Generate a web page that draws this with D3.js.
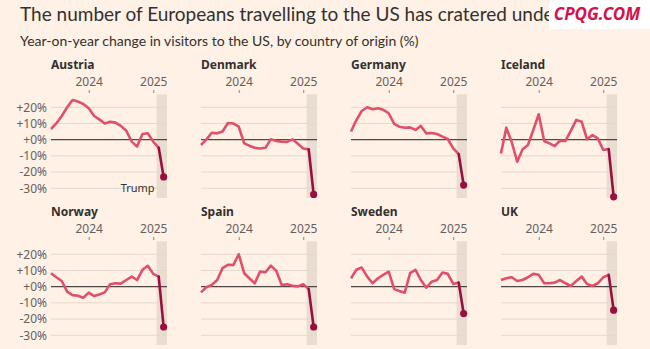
<!DOCTYPE html>
<html><head><meta charset="utf-8">
<script src="https://cdn.jsdelivr.net/npm/d3@7"></script>
<style>
  body { margin: 0; background: #fff1e5; }
  svg { display: block; font-family: "Noto Sans", sans-serif; }
</style>
</head>
<body>
<svg id="chart" width="650" height="349"></svg>
<script>
// monthly points, Jun 2023 -> Mar 2025
const months = ["2023-06","2023-07","2023-08","2023-09","2023-10","2023-11","2023-12",
  "2024-01","2024-02","2024-03","2024-04","2024-05","2024-06","2024-07","2024-08","2024-09",
  "2024-10","2024-11","2024-12","2025-01","2025-02","2025-03"];

const countries = ["Austria","Denmark","Germany","Iceland","Norway","Spain","Sweden","UK"];

const austria = [6.6,10,14.6,20,24.5,23.5,22,19.4,14.6,12.5,10,11,10.5,8.5,5.5,-1.2,-4.3,3.5,4,-1.2,-5,-23];
const denmark = [-3.3,0,4.3,3.9,5,10.3,10,8,-2.3,-3.7,-5,-5.4,-5,0.2,-0.8,-1.2,-1.4,0.2,-2.5,-5.4,-6,-33.8];
const germany = [5,12,17.7,20,18.8,19.4,18.4,16.3,9.7,8,7.4,7.6,6,8.5,3.9,4.1,3.5,1.9,0.4,-5.4,-8.9,-28];
const iceland = [-8.5,7.4,-1.6,-13.6,-6,-3.3,6,15.7,-0.8,-2.3,-3.9,-0.6,-0.8,5.4,12.2,11,0.2,2.9,0.8,-6.4,-5.8,-35.3];
const norway  = [8.3,5.8,3.5,-3.1,-5.2,-5.6,-6.8,-3.7,-5.8,-4.8,-3.5,1.5,2.1,1.9,4.1,6.2,4.1,10.4,12.9,7.9,6.2,-24.9];
const spain   = [-3.5,-0.4,1,4.1,11.4,13.5,13.3,20,8.3,5.2,2.1,9.3,8.9,13,9.8,1,1.5,0.6,0.2,1.5,-1.5,-24.9];
const sweden  = [5.2,10.4,11.8,6.2,2.1,5.2,7.3,9.3,-1.5,-2.7,-3.7,8.3,10.4,4.1,-0.6,3.1,4.1,8.7,7.9,1.7,2.5,-16.6];
const uk      = [4.1,5.2,5.8,3.5,4.1,5.8,7.9,7.3,2.1,2.1,2.5,4.1,2.1,0.4,3.5,6.2,1.7,0.4,2.1,5.8,7.3,-14.5];
const series = [austria, denmark, germany, iceland, norway, spain, sweden, uk];

const yTicks = [20, 10, 0, -10, -20, -30];
const yearTicks = ["2024-01-01", "2025-01-01"];
const trumpStart = "2025-01-20";
const xEnd = "2025-03-20";

const svg = d3.select("#chart");
const parseMonth = d3.timeParse("%Y-%m");
const parseDay = d3.timeParse("%Y-%m-%d");
const dates = months.map(parseMonth);

// title (the end of it sits under the watermark box)
svg.append("text").attr("x", 20).attr("y", 21)
   .style("font-family", "Lato, sans-serif").style("font-size", "19px").attr("fill", "#33302e")
   .text("The number of Europeans travelling to the US has cratered under");
svg.append("text").attr("x", 20).attr("y", 46)
   .style("font-family", "Lato, sans-serif").style("font-size", "14px").attr("fill", "#33302e")
   .text("Year-on-year change in visitors to the US, by country of origin (%)");

// watermark box
svg.append("rect").attr("x", 549).attr("y", 0).attr("width", 101).attr("height", 29).attr("fill", "#fff");
svg.append("text").attr("x", 597).attr("y", 20).attr("text-anchor", "middle")
   .style("font-size", "17px").style("font-weight", "bold").style("font-style", "italic")
   .attr("fill", "#d1134d")
   .text("CPQG.COM");

const panelW = 116;
const x = d3.scaleTime().domain([dates[0], parseDay(xEnd)]).range([0, panelW]);

countries.forEach((name, i) => {
  const col = i % 4, row = Math.floor(i / 4);
  const g = svg.append("g").attr("transform", `translate(${51 + col * 150},${row * 147})`);
  const y = d3.scaleLinear().domain([-36, 28]).range([198, 94.3]);
  const vals = series[i];

  // trump band
  g.append("rect")
   .attr("x", x(parseDay(trumpStart))).attr("y", y(28))
   .attr("width", x(parseDay(xEnd)) - x(parseDay(trumpStart)))
   .attr("height", y(-36) - y(28))
   .attr("fill", "#e9ddd2");

  // grid
  g.selectAll("line.grid").data(yTicks).join("line")
   .attr("class", "grid")
   .attr("x1", 0).attr("x2", panelW)
   .attr("y1", d => y(d)).attr("y2", d => y(d))
   .attr("stroke", d => d === 0 ? "#4d4845" : "#e3d8ce")
   .attr("stroke-width", d => d === 0 ? 1.2 : 1);

  // year axis on top
  const xAxis = d3.axisTop(x).tickValues(yearTicks.map(parseDay))
    .tickFormat(d3.timeFormat("%Y")).tickSize(3).tickPadding(4);
  const ax = g.append("g").attr("transform", "translate(0,93)").call(xAxis);
  ax.select(".domain").remove();
  ax.selectAll("line").attr("stroke", "#8a8480");
  ax.selectAll("text").attr("fill", "#66605c").style("font-size", "12px")
    .style("font-family", "Noto Sans, sans-serif");

  // y labels on first column
  if (col === 0) {
    const yAxis = d3.axisLeft(y).tickValues(yTicks)
      .tickFormat(d => (d >= 0 ? "+" : "") + d + "%").tickSize(0).tickPadding(4);
    const ay = g.append("g").call(yAxis);
    ay.select(".domain").remove();
    ay.selectAll("text").attr("fill", "#66605c").style("font-size", "12px")
      .style("font-family", "Noto Sans, sans-serif");
  }

  // country name
  g.append("text").attr("x", 0).attr("y", 69)
   .style("font-size", "12px").style("font-weight", "bold").attr("fill", "#33302e")
   .text(name);

  const line = d3.line().x(d => x(d[0])).y(d => y(d[1]));
  const pts = dates.map((d, k) => [d, vals[k]]);
  const n = pts.length;

  g.append("path").datum(pts.slice(0, n - 1)).attr("d", line)
   .attr("fill", "none").attr("stroke", "#e0506a").attr("stroke-width", 2.6)
   .attr("stroke-linejoin", "round");
  g.append("path").datum(pts.slice(n - 2)).attr("d", line)
   .attr("fill", "none").attr("stroke", "#990f3d").attr("stroke-width", 2.6)
   .attr("stroke-linecap", "round");
  g.append("circle").attr("cx", x(pts[n - 1][0])).attr("cy", y(pts[n - 1][1]))
   .attr("r", 3.6).attr("fill", "#990f3d");

  if (i === 0) {
    g.append("text").attr("x", x(parseDay(trumpStart)) - 2).attr("y", y(-30) + 4)
     .attr("text-anchor", "end").style("font-size", "11px").attr("fill", "#33302e")
     .text("Trump");
  }
});
</script>
</body></html>
